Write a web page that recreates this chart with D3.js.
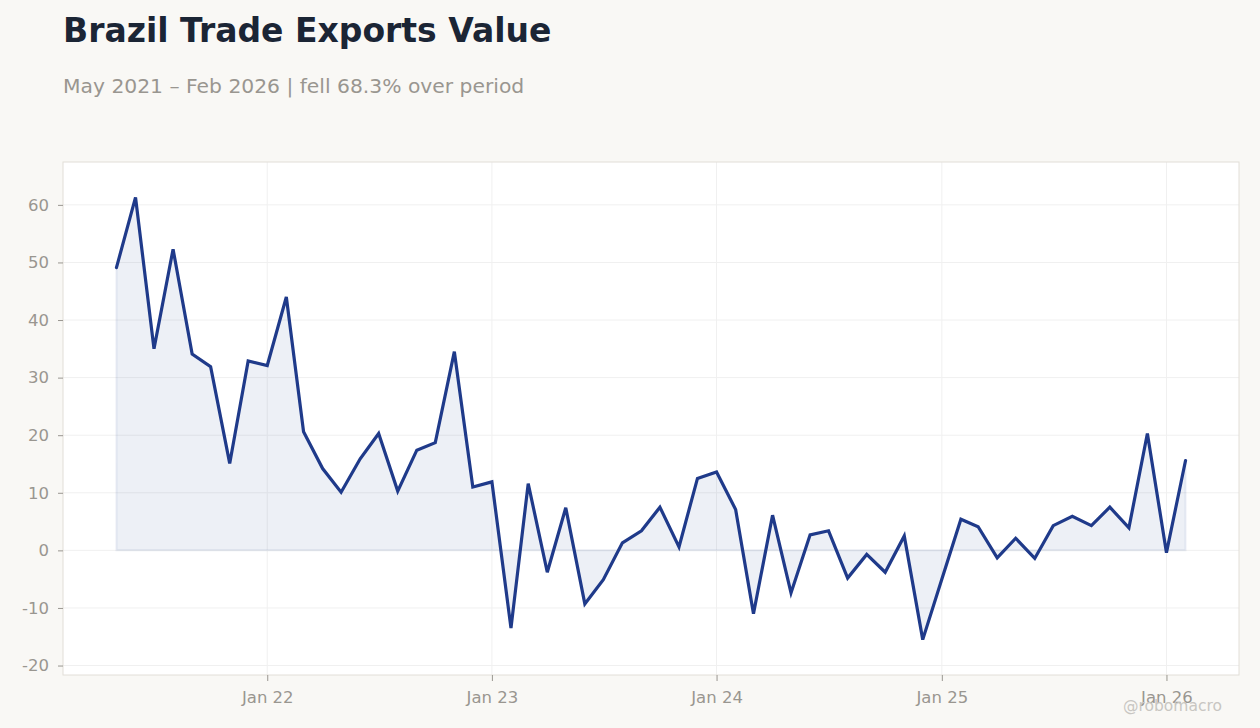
<!DOCTYPE html>
<html>
<head>
<meta charset="utf-8">
<script src="https://cdn.jsdelivr.net/npm/d3@7"></script>
<style>
  body { margin: 0; background: #f9f8f5; }
  svg { display: block; font-family: "DejaVu Sans", sans-serif; }
</style>
</head>
<body>
<div id="chart"></div>
<script>
// monthly values, May 2021 .. Feb 2026
var startMonth = "2021-05";
var values = [
  49.1, 61.3, 35.0, 52.3, 34.1, 31.9, 15.1, 32.9,
  32.1, 44.0, 20.6, 14.2, 10.1, 15.9, 20.3, 10.3, 17.4, 18.7, 34.5, 11.0,
  11.9, -13.5, 11.6, -3.8, 7.4, -9.3, -5.1, 1.3, 3.4, 7.5, 0.6, 12.5,
  13.6, 7.1, -11.0, 6.1, -7.4, 2.7, 3.4, -4.8, -0.7, -3.8, 2.5, -15.5,
  -5.0, 5.4, 4.1, -1.3, 2.1, -1.4, 4.3, 5.9, 4.3, 7.5, 3.9, 20.3,
  -0.4, 15.6
];
var yTicks = [-20, -10, 0, 10, 20, 30, 40, 50, 60];
var xTickLabels = ["Jan 22", "Jan 23", "Jan 24", "Jan 25", "Jan 26"];

var parseMonth = d3.timeParse("%Y-%m");
var data = values.map(function(v, i) {
  return { date: d3.timeMonth.offset(parseMonth(startMonth), i), value: v };
});
var xTicks = xTickLabels.map(function(s) { return d3.timeParse("%b %y")(s); });

var width = 1260, height = 728;
var margin = {top: 162, right: 21, bottom: 53, left: 63};
var innerW = width - margin.left - margin.right,
    innerH = height - margin.top - margin.bottom;

var svg = d3.select("#chart").append("svg")
    .attr("width", width)
    .attr("height", height);

svg.append("text")
    .attr("x", 63).attr("y", 42)
    .attr("font-size", 33).attr("font-weight", "bold")
    .attr("fill", "#1b2535")
    .text("Brazil Trade Exports Value");

svg.append("text")
    .attr("x", 63).attr("y", 93)
    .attr("font-size", 20.3)
    .attr("fill", "#999690")
    .text("May 2021 \u2013 Feb 2026 | fell 68.3% over period");

var g = svg.append("g")
    .attr("transform", "translate(" + margin.left + "," + margin.top + ")");

// plot background
g.append("rect")
    .attr("width", innerW).attr("height", innerH)
    .attr("fill", "#ffffff");

// x scale with 5% padding each side
var ext = d3.extent(data, function(d) { return d.date; });
var span = ext[1] - ext[0];
var x = d3.scaleTime()
    .domain([new Date(+ext[0] - span * 0.05), new Date(+ext[1] + span * 0.05)])
    .range([0, innerW]);

// y scale with 8% padding
var yExt = d3.extent(values);
var ySpan = yExt[1] - yExt[0];
var y = d3.scaleLinear()
    .domain([yExt[0] - ySpan * 0.08, yExt[1] + ySpan * 0.08])
    .range([innerH, 0]);

// grid
g.selectAll(".hgrid").data(yTicks).enter().append("line")
    .attr("x1", 0).attr("x2", innerW)
    .attr("y1", function(d) { return y(d); })
    .attr("y2", function(d) { return y(d); })
    .attr("stroke", "#f0f0f0").attr("stroke-width", 1);

g.selectAll(".vgrid").data(xTicks).enter().append("line")
    .attr("x1", function(d) { return x(d); })
    .attr("x2", function(d) { return x(d); })
    .attr("y1", 0).attr("y2", innerH)
    .attr("stroke", "#f0f0f0").attr("stroke-width", 1);

// area to zero
var area = d3.area()
    .x(function(d) { return x(d.date); })
    .y0(y(0))
    .y1(function(d) { return y(d.value); });

g.append("path")
    .datum(data)
    .attr("d", area)
    .attr("fill", "rgba(30,58,138,0.08)")
    .attr("stroke", "rgba(30,58,138,0.08)")
    .attr("stroke-width", 2);

// line
var line = d3.line()
    .x(function(d) { return x(d.date); })
    .y(function(d) { return y(d.value); });

g.append("path")
    .datum(data)
    .attr("d", line)
    .attr("fill", "none")
    .attr("stroke", "#1f3a8a")
    .attr("stroke-width", 3.2)
    .attr("stroke-linejoin", "miter")
    .attr("stroke-linecap", "round");

// frame
g.append("rect")
    .attr("width", innerW).attr("height", innerH)
    .attr("fill", "none")
    .attr("stroke", "#e2ded8").attr("stroke-width", 1);

// y axis
var yAxis = g.append("g")
    .call(d3.axisLeft(y).tickValues(yTicks).tickSize(5).tickPadding(9)
      .tickFormat(function(d) { return String(d); }));
yAxis.select(".domain").remove();
yAxis.selectAll("line").attr("stroke", "#999690");
yAxis.selectAll("text")
    .attr("font-family", "DejaVu Sans, sans-serif")
    .attr("font-size", 16.5)
    .attr("fill", "#999690");

// x axis
var xAxis = g.append("g")
    .attr("transform", "translate(0," + innerH + ")")
    .call(d3.axisBottom(x).tickValues(xTicks).tickSize(6).tickPadding(10)
      .tickFormat(function(d, i) { return xTickLabels[i]; }));
xAxis.select(".domain").remove();
xAxis.selectAll("line").attr("stroke", "#999690");
xAxis.selectAll("text")
    .attr("font-family", "DejaVu Sans, sans-serif")
    .attr("font-size", 16.5)
    .attr("fill", "#999690");

// watermark
svg.append("text")
    .attr("x", 1222).attr("y", 711)
    .attr("text-anchor", "end")
    .attr("font-size", 15.5)
    .attr("fill", "#c8c6c2")
    .text("@robomacro");
</script>
</body>
</html>
